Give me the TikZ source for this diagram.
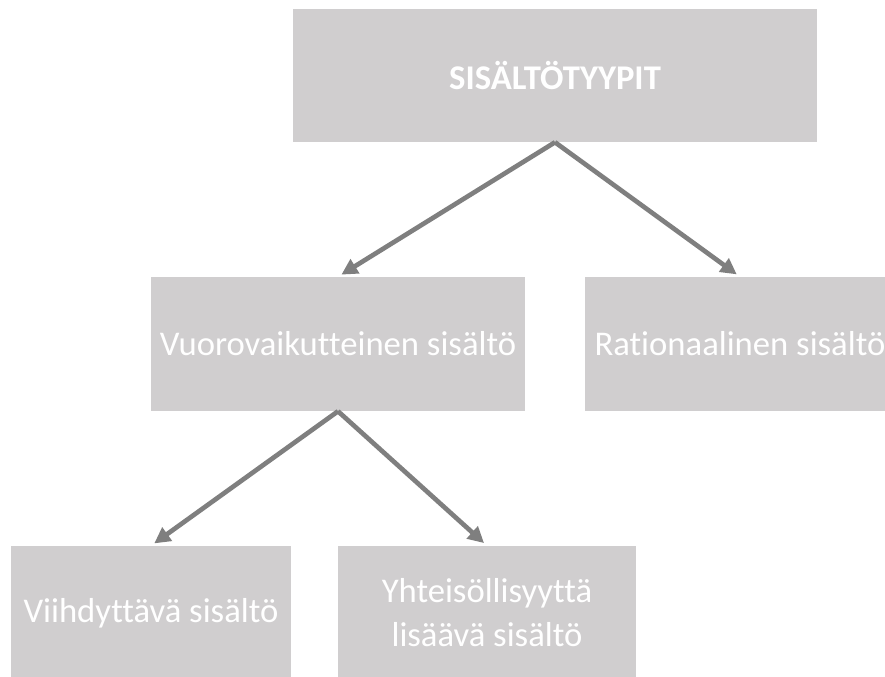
\documentclass[tikz,border=0pt]{standalone}
\usepackage{fontspec}
\setmainfont{Carlito}[Ligatures=NoCommon]
\usetikzlibrary{arrows.meta}
\definecolor{boxgray}{RGB}{208,206,207}
\definecolor{linkgray}{RGB}{127,127,127}
\begin{document}
\begin{tikzpicture}[x=0.75pt,y=-0.75pt,
    typebox/.style={fill=boxgray, text=white, inner sep=0pt, align=center,
        font=\fontsize{26}{33}\selectfont},
    link/.style={draw=linkgray, line width=3.5pt, shorten >=3pt,
        -{Triangle[length=12pt,width=12pt]}}]
    % Page
    \clip (0,0) rectangle (885,677);

    % Top level
    \node[typebox, minimum width=524*0.75pt, minimum height=133*0.75pt,
        font=\fontsize{26}{33}\selectfont\bfseries] (types) at (555,75.5) {SISÄLTÖTYYPIT};

    % Second level
    \node[typebox, minimum width=374*0.75pt, minimum height=134*0.75pt] (interactive) at (338,344) {Vuorovaikutteinen sisältö};
    \node[typebox, minimum width=310*0.75pt, minimum height=134*0.75pt] (rational) at (740,344) {Rationaalinen sisältö};

    % Third level
    \node[typebox, minimum width=280*0.75pt, minimum height=134*0.75pt] (entertaining) at (151,613) {Viihdyttävä sisältö};
    \node[typebox, minimum width=298*0.75pt, minimum height=134*0.75pt] (community) at (487,613) {Yhteisöllisyyttä\\lisäävä sisältö};

    % Arrows
    \draw[link] (types.south) -- (interactive.north);
    \draw[link] (types.south) -- (rational.north);
    \draw[link] (interactive.south) -- (entertaining.north);
    \draw[link] (interactive.south) -- (community.north);
\end{tikzpicture}
\end{document}
